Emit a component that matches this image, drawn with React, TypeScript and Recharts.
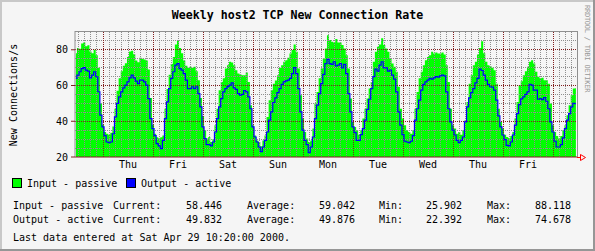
import { Area, ComposedChart, Line, ReferenceLine, XAxis, YAxis } from 'recharts';

// hours are counted from Thu 00:00, one sample per hour
const FIRST_HOUR = -13;
const X_DOMAIN: [number, number] = [-13.44, 227.52];
const Y_DOMAIN: [number, number] = [20, 90.5];

const INPUT_PASSIVE = [
  78, 81, 80.5, 83.5, 84, 82, 82.5, 79, 78, 80, 77, 70, 50,
  38, 34, 33, 32.5, 33.5, 37, 47, 57, 64, 68, 71, 72.5, 76, 79, 79.5, 77.5, 74, 73, 75.5, 75, 74.5, 74, 69, 53,
  38, 33, 31, 30.5, 31, 32, 47, 58, 66, 72, 76, 83, 85.5, 81, 78, 74, 71, 70, 70.5, 70, 70.5, 68, 63, 53,
  43, 35, 30.3, 31.2, 28.4, 30, 37.8, 47, 57.4, 62, 64, 69.5, 71.4, 73.3, 72.9, 71.4, 68.6, 66.7, 66.2, 65.8, 65.8, 67.3, 62, 49,
  37.8, 32, 29.3, 28.4, 26, 29.3, 32, 42.4, 51.8, 57.4, 61, 62.8, 65.8, 70, 71.4, 73.3, 74.2, 75.5, 77.9, 79.8, 83, 78.9, 69.5, 54.6,
  41.5, 34, 30.3, 28.4, 29.3, 35.9, 50, 56.4, 64, 69.5, 75.1, 80.7, 88.1, 85.4, 84.5, 84.1, 86, 84.1, 84.1, 82.6, 80.7, 77, 69.5, 52.7,
  39.6, 36.8, 35, 32.5, 35, 41.5, 47, 52.7, 58.3, 62, 73.3, 78.9, 81.7, 83, 86.4, 82.6, 80.7, 78.9, 75.1, 72.3, 70.5, 67.7, 59.3, 47,
  41.5, 37.8, 35, 34, 33, 35, 47, 56.4, 64, 67.7, 71.4, 74.2, 76, 77, 78.9, 77.9, 78.5, 77.9, 77.9, 78.5, 77.4, 71.4, 62, 47,
  37.8, 35.9, 33, 34, 32.5, 35, 40.6, 50.8, 61, 65.8, 71.4, 73.3, 77.4, 81, 84.7, 78, 73.3, 71.4, 70.8, 69.9, 68.6, 61, 47, 39.6,
  35.9, 32.5, 31.2, 30.7, 31.8, 34, 41.5, 50.8, 60.2, 62.4, 65.8, 68, 70.5, 73.3, 74.2, 72.3, 67.7, 64.9, 64, 64.3, 63, 63, 61, 50,
  37.8, 34, 31.8, 30.3, 31.8, 35, 37.8, 43.4, 49, 54.6, 58.3, 58.4,
];

const OUTPUT_ACTIVE = [
  64, 65.8, 67.7, 69.5, 70, 68.6, 68, 64.3, 65.8, 67.7, 64.9, 56.5, 43.4,
  36.8, 32, 28.4, 28, 28.4, 33, 42.4, 50, 53.6, 56.4, 58.7, 60.2, 62, 64.3, 65.8, 64.3, 62.4, 61, 63, 63, 62, 60.2, 52.7, 41.5,
  35.9, 32, 27.5, 26.2, 24.7, 29.3, 41.5, 50.8, 58.3, 64, 67.7, 71.4, 72.3, 69.5, 68.6, 66.7, 63, 58.3, 58.3, 59.3, 58.3, 59.3, 55.5, 48,
  36.8, 30.3, 26.9, 26.9, 26.2, 28.4, 34, 41.5, 48, 52.7, 56.4, 58.3, 59.4, 60.2, 61.5, 58.7, 57.8, 55.5, 54.6, 55, 57.2, 56.4, 53.6, 47,
  36.8, 31.2, 28.4, 25.6, 23, 25.6, 29.3, 34, 40.6, 45.2, 50.5, 53.1, 56, 58.3, 60.6, 62, 62.6, 63, 64, 66.7, 70, 66.7, 58.3, 45.2,
  35, 29.3, 26.9, 22.5, 25.6, 31.2, 41.5, 49, 55.5, 61, 66.2, 72.3, 74.6, 72.3, 71.8, 73.3, 71, 71.4, 72.3, 69.9, 71.8, 66.7, 55.5, 45.2,
  36.8, 33.6, 29.3, 29.3, 32.5, 35.9, 40.6, 46.7, 52.3, 58.3, 65, 69.2, 68, 71.4, 73.3, 69.9, 69.9, 68, 68.6, 65.8, 63.6, 56.4, 45.2, 37.8,
  32.5, 28.8, 28.4, 28, 28.8, 32, 40.6, 47, 51.8, 57.4, 60.6, 62, 63, 64, 63.6, 64.3, 65, 64.7, 65.4, 65.8, 65.4, 56.4, 47, 39.6,
  35, 32.3, 29.3, 28, 29.3, 31.2, 39.6, 48, 53.1, 56, 58.3, 61.5, 64, 69.2, 68.4, 65.8, 63, 60.6, 59.3, 59.1, 57.4, 51.8, 43, 36.8,
  32.3, 29.7, 26.5, 26.2, 28.4, 32.3, 37.8, 44.3, 49.3, 52.5, 53.6, 55, 56.4, 60.7, 60.2, 57.4, 57.4, 52.3, 52.7, 52.1, 53.3, 51.2, 47, 39.6,
  34, 28.8, 25.6, 25.6, 26.9, 30.7, 35.9, 40.6, 44.3, 48, 50, 49.8,
];

const DAY_LABELS = ['Thu', 'Fri', 'Sat', 'Sun', 'Mon', 'Tue', 'Wed', 'Thu', 'Fri'];
const Y_TICKS = [20, 40, 60, 80];

const STATS = [
  { name: 'Input - passive', color: '#00ff00', current: '58.446', average: '59.042', min: '25.902', max: '88.118' },
  { name: 'Output - active', color: '#0000ff', current: '49.832', average: '49.876', min: '22.392', max: '74.678' },
];
const LAST_UPDATE = 'Sat Apr 29 10:20:00 2000';

const MONO = '"DejaVu Sans Mono", "Liberation Mono", monospace';
const GRID = '#8f8f8f';
const MGRID = '#821e1e';

const rows = INPUT_PASSIVE.map((v, i) => ({
  hour: FIRST_HOUR + i,
  input: v,
  output: OUTPUT_ACTIVE[i],
}));

const noonTicks = DAY_LABELS.map((_, i) => 12 + 24 * i);
const midnights = [...DAY_LABELS.map((_, i) => 24 * i), 24 * DAY_LABELS.length];
const minorHours: number[] = [];
for (let h = -12; h < X_DOMAIN[1]; h += 3) if (h % 24 !== 0) minorHours.push(h);
const minorValues: number[] = [];
for (let v = 25; v < Y_DOMAIN[1]; v += 5) if (v % 20 !== 0) minorValues.push(v);

const W = 595;
const H = 251;

export default function App() {
  return (
    <div style={{ position: 'relative', width: W, height: H, background: '#f5f5f5', fontFamily: MONO }}>
      <style>{'body{margin:0}'}</style>
      <ComposedChart
        width={W}
        height={H}
        data={rows}
        margin={{ top: 31, right: 18, bottom: 74, left: 0 }}
      >
        <XAxis
          type="number"
          dataKey="hour"
          domain={X_DOMAIN}
          allowDataOverflow
          ticks={noonTicks}
          interval={0}
          tickFormatter={(v: number) => DAY_LABELS[Math.round((v - 12) / 24)]}
          axisLine={{ stroke: MGRID }}
          tickLine={false}
          tickSize={0}
          tickMargin={4}
          height={20}
          tick={{ fontFamily: MONO, fontSize: 10, fill: '#000' }}
        />
        <YAxis
          type="number"
          domain={Y_DOMAIN}
          allowDataOverflow
          ticks={Y_TICKS}
          interval={0}
          width={75}
          axisLine={{ stroke: GRID }}
          tickLine={{ stroke: MGRID }}
          tickSize={4}
          tickMargin={3}
          tick={{ fontFamily: MONO, fontSize: 10, fill: '#000' }}
        />
        <Area
          dataKey="input"
          type="step"
          baseValue="dataMin"
          fill="#00ff00"
          fillOpacity={1}
          stroke="none"
          isAnimationActive={false}
        />
        {minorValues.map((v) => (
          <ReferenceLine key={'my' + v} y={v} stroke={GRID} strokeDasharray="1 1" shapeRendering="crispEdges" />
        ))}
        {minorHours.map((h) => (
          <ReferenceLine key={'mx' + h} x={h} stroke={GRID} strokeDasharray="1 1" shapeRendering="crispEdges" />
        ))}
        {Y_TICKS.slice(1).map((v) => (
          <ReferenceLine key={'My' + v} y={v} stroke={MGRID} strokeDasharray="1 1" shapeRendering="crispEdges" />
        ))}
        {midnights.map((h) => (
          <ReferenceLine key={'Mx' + h} x={h} stroke={MGRID} strokeDasharray="1 1" shapeRendering="crispEdges" />
        ))}
        <Line
          dataKey="output"
          type="step"
          stroke="#0000ff"
          strokeWidth={1.2}
          dot={false}
          activeDot={false}
          isAnimationActive={false}
        />
      </ComposedChart>

      <svg width={W} height={H} style={{ position: 'absolute', left: 0, top: 0, pointerEvents: 'none' }}>
        <rect x={1} y={1} width={W - 2} height={H - 2} fill="none" stroke="#c8c8c8" strokeWidth={2} />
        <path d={`M${W - 1} 0 V${H - 1} H0`} fill="none" stroke="#969696" strokeWidth={2} />
        <path d="M75 31.5 H577.5 V157" fill="none" stroke={GRID} strokeWidth={1} shapeRendering="crispEdges" />
        <path d="M577 157.5 H580" stroke="#ff0000" strokeWidth={1} shapeRendering="crispEdges" />
        <polygon points="580.5,154.5 585.5,157.5 580.5,160.5" fill="none" stroke="#ff0000" strokeWidth={1} />
        <text x={297.5} y={18.5} textAnchor="middle" fontFamily={MONO} fontWeight="bold" fontSize={11.6} fill="#000">
          Weekly host2 TCP New Connection Rate
        </text>
        <text transform="translate(16.5,95) rotate(-90)" textAnchor="middle" fontFamily={MONO} fontSize={10} fill="#000">
          New Connections/s
        </text>
        <text
          transform="translate(584.5,5) rotate(90)"
          fontFamily={MONO}
          fontSize={7}
          letterSpacing={-0.25}
          fill="#999"
        >
          RRDTOOL / TOBI OETIKER
        </text>
        {STATS.map((s, i) => (
          <g key={s.name} fontFamily={MONO} fontSize={10} fill="#000">
            <rect x={12.5 + i * 114} y={178.5} width={9} height={9} fill={s.color} stroke="#000" />
            <text x={27 + i * 114} y={187}>{s.name}</text>
            <text x={13} y={209 + i * 14}>{s.name}</text>
            <text x={113} y={209 + i * 14}>Current:</text>
            <text x={222} y={209 + i * 14} textAnchor="end">{s.current}</text>
            <text x={247} y={209 + i * 14}>Average:</text>
            <text x={355} y={209 + i * 14} textAnchor="end">{s.average}</text>
            <text x={379} y={209 + i * 14}>Min:</text>
            <text x={462} y={209 + i * 14} textAnchor="end">{s.min}</text>
            <text x={487} y={209 + i * 14}>Max:</text>
            <text x={571} y={209 + i * 14} textAnchor="end">{s.max}</text>
          </g>
        ))}
        <text x={13} y={240.5} fontFamily={MONO} fontSize={10} fill="#000">
          Last data entered at {LAST_UPDATE}.
        </text>
      </svg>
    </div>
  );
}
